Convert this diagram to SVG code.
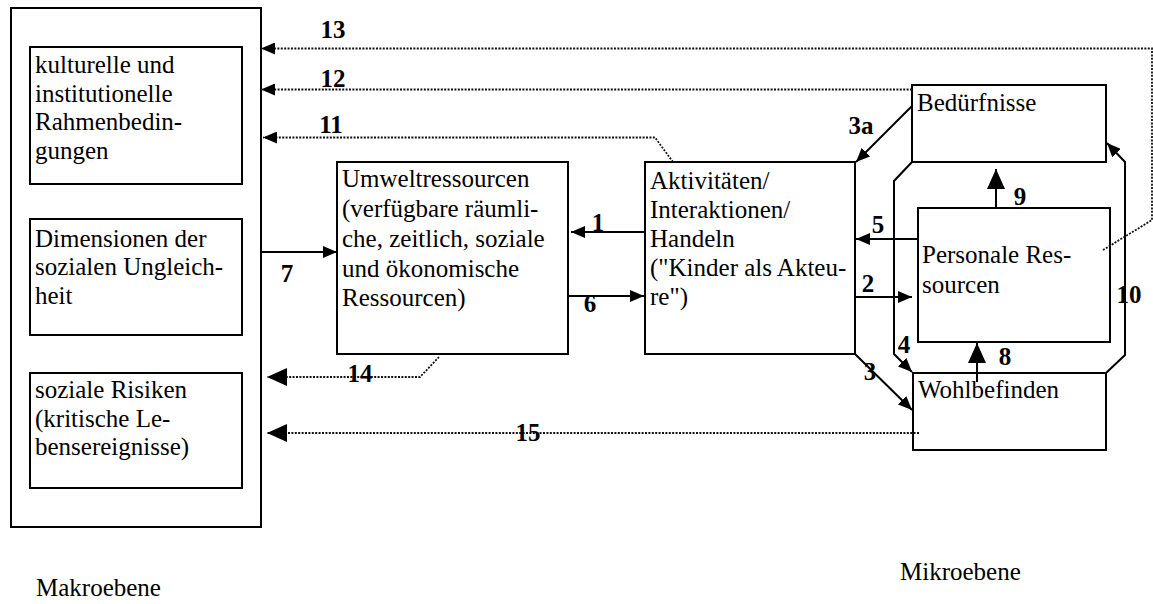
<svg xmlns="http://www.w3.org/2000/svg" width="1153" height="604" viewBox="0 0 1153 604">
<style>
  .box { fill: #fff; stroke: #000; stroke-width: 2; }
  .txt { font-family: "Liberation Serif", "Times New Roman", serif; font-size: 25px; fill: #000; }
  .num { font-family: "Liberation Serif", "Times New Roman", serif; font-size: 25px; font-weight: bold; fill: #000; text-anchor: middle; }
  .ln { fill: none; stroke: #000; stroke-width: 2; }
  .dot { fill: none; stroke: #111; stroke-width: 1.8; stroke-dasharray: 2 1.4; }
</style>
<defs>
  <marker id="ah" viewBox="0 0 14 12" refX="14" refY="6" markerWidth="14" markerHeight="12" markerUnits="userSpaceOnUse" orient="auto">
    <path d="M0,0 L14,6 L0,12 z" fill="#000"/>
  </marker>
  <marker id="ahL" viewBox="0 0 20 18" refX="20" refY="9" markerWidth="20" markerHeight="18" markerUnits="userSpaceOnUse" orient="auto">
    <path d="M0,0 L20,9 L0,18 z" fill="#000"/>
  </marker>
</defs>
<rect width="1153" height="604" fill="#fff"/>

<g id="makro">
  <rect class="box" x="11" y="8" width="250" height="519"/>
</g>
<g id="kultur">
  <rect class="box" x="30" y="47" width="212" height="137"/>
  <text class="txt"><tspan x="35" y="73">kulturelle und</tspan><tspan x="35" y="102">institutionelle</tspan><tspan x="35" y="130">Rahmenbedin-</tspan><tspan x="35" y="159">gungen</tspan></text>
</g>
<g id="dimensionen">
  <rect class="box" x="30" y="219" width="212" height="116"/>
  <text class="txt"><tspan x="35" y="247">Dimensionen der</tspan><tspan x="35" y="275">sozialen Ungleich-</tspan><tspan x="35" y="304">heit</tspan></text>
</g>
<g id="risiken">
  <rect class="box" x="30" y="373" width="212" height="115"/>
  <text class="txt"><tspan x="35" y="398">soziale Risiken</tspan><tspan x="35" y="427">(kritische Le-</tspan><tspan x="35" y="455">bensereignisse)</tspan></text>
</g>
<g id="umwelt">
  <rect class="box" x="337" y="162" width="231" height="192"/>
  <text class="txt"><tspan x="342" y="187">Umweltressourcen</tspan><tspan x="342" y="217">(verfügbare räumli-</tspan><tspan x="342" y="247">che, zeitlich, soziale</tspan><tspan x="342" y="277">und ökonomische</tspan><tspan x="342" y="306">Ressourcen)</tspan></text>
</g>
<g id="aktivitaeten">
  <rect class="box" x="645" y="162" width="210" height="192"/>
  <text class="txt"><tspan x="650" y="189">Aktivitäten/</tspan><tspan x="650" y="218">Interaktionen/</tspan><tspan x="650" y="247">Handeln</tspan><tspan x="650" y="276">("Kinder als Akteu-</tspan><tspan x="650" y="305">re")</tspan></text>
</g>
<g id="beduerfnisse">
  <rect class="box" x="912" y="85" width="194" height="77"/>
  <text class="txt" x="917" y="111">Bedürfnisse</text>
</g>
<g id="personale">
  <rect class="box" x="918" y="208" width="192" height="134"/>
  <text class="txt"><tspan x="922" y="263">Personale Res-</tspan><tspan x="922" y="293">sourcen</tspan></text>
</g>
<g id="wohlbefinden">
  <rect class="box" x="913" y="373" width="193" height="77"/>
  <text class="txt" x="918" y="398">Wohlbefinden</text>
</g>

<g id="connectors">
  <line class="ln" x1="645" y1="232" x2="571" y2="232" marker-end="url(#ah)"/>
  <line class="ln" x1="855" y1="297" x2="912" y2="297" marker-end="url(#ah)"/>
  <line class="ln" x1="855" y1="354" x2="912" y2="410" marker-end="url(#ah)"/>
  <line class="ln" x1="912" y1="106" x2="856" y2="162" marker-end="url(#ah)"/>
  <polyline class="ln" points="912,162 894,181 894,354 912,372" marker-end="url(#ah)"/>
  <line class="ln" x1="918" y1="239" x2="856" y2="239" marker-end="url(#ah)"/>
  <line class="ln" x1="568" y1="296" x2="644" y2="296" marker-end="url(#ah)"/>
  <line class="ln" x1="261" y1="252" x2="337" y2="252" marker-end="url(#ah)"/>
  <line class="ln" x1="977" y1="382" x2="977" y2="343" marker-end="url(#ahL)"/>
  <line class="ln" x1="996" y1="208" x2="996" y2="169" marker-end="url(#ahL)"/>
  <polyline class="ln" points="1106,373 1125,355 1125,162 1107,143" marker-end="url(#ah)"/>
  <polyline class="dot" points="673,162 655,137.5 263,137.5" marker-end="url(#ah)"/>
  <line class="dot" x1="912" y1="89.5" x2="261" y2="89.5" marker-end="url(#ah)"/>
  <polyline class="dot" points="1103,250 1152,220 1152,48.5 261,48.5" marker-end="url(#ah)"/>
  <polyline class="dot" points="439,357 420,377 267,377" marker-end="url(#ahL)"/>
  <line class="dot" x1="919" y1="433" x2="267" y2="433" marker-end="url(#ahL)"/>
</g>

<g id="labels">
  <text class="num" x="598" y="231">1</text>
  <text class="num" x="868" y="292">2</text>
  <text class="num" x="870" y="380">3</text>
  <text class="num" x="861" y="134">3a</text>
  <text class="num" x="904" y="353">4</text>
  <text class="num" x="878" y="233">5</text>
  <text class="num" x="590" y="312">6</text>
  <text class="num" x="287" y="282">7</text>
  <text class="num" x="1005" y="365">8</text>
  <text class="num" x="1020" y="205">9</text>
  <text class="num" x="1129" y="303">10</text>
  <text class="num" x="331" y="133">11</text>
  <text class="num" x="333" y="87">12</text>
  <text class="num" x="333" y="38">13</text>
  <text class="num" x="360" y="382">14</text>
  <text class="num" x="528" y="441">15</text>
</g>

<g id="ebenen">
  <text class="txt" x="36" y="596">Makroebene</text>
  <text class="txt" x="900" y="580">Mikroebene</text>
</g>
</svg>
